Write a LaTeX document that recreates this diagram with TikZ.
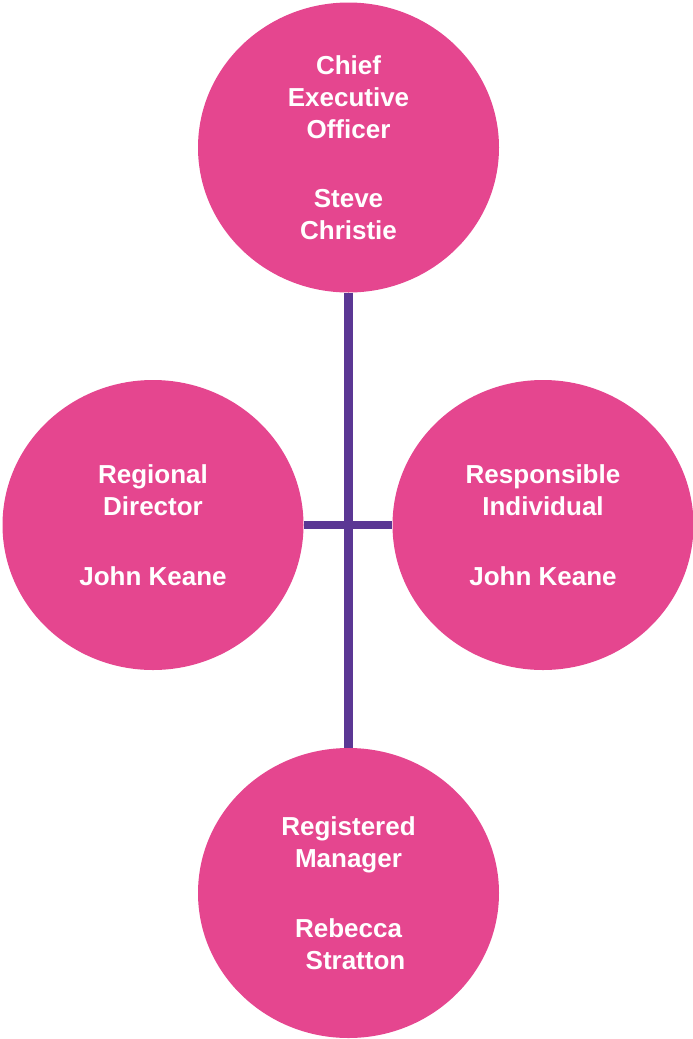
\documentclass[tikz,border=0pt]{standalone}
\usepackage{fontspec}
\setmainfont{Liberation Sans}
\usetikzlibrary{shapes.geometric}
\definecolor{pinkfill}{HTML}{E5468F}
\definecolor{linepurple}{HTML}{5B3794}
\begin{document}
\begin{tikzpicture}[x=1pt,y=-1pt,
  person/.style={ellipse, fill=pinkfill, draw=none, minimum width=301pt, minimum height=290pt, inner sep=0pt,
    text=white, align=center, font=\fontsize{26pt}{32pt}\selectfont\bfseries},
  link/.style={draw=linepurple, line width=8.5pt}]
\useasboundingbox (0,0) rectangle (693,1039);
\node[person] (ceo) at (348.5,147.5) {Chief\\Executive\\Officer\\[37pt]Steve\\Christie};
\node[person] (rd) at (153,525) {Regional\\Director\\[38pt]John Keane};
\node[person] (ri) at (543,525) {Responsible\\Individual\\[38pt]John Keane};
\node[person] (rm) at (348.5,893) {Registered\\Manager\\[38pt]Rebecca\\\hspace{14pt}Stratton};
\draw[link] (ceo.south) -- (rm.north);
\draw[link] (rd.east) -- (ri.west);
\end{tikzpicture}
\end{document}
